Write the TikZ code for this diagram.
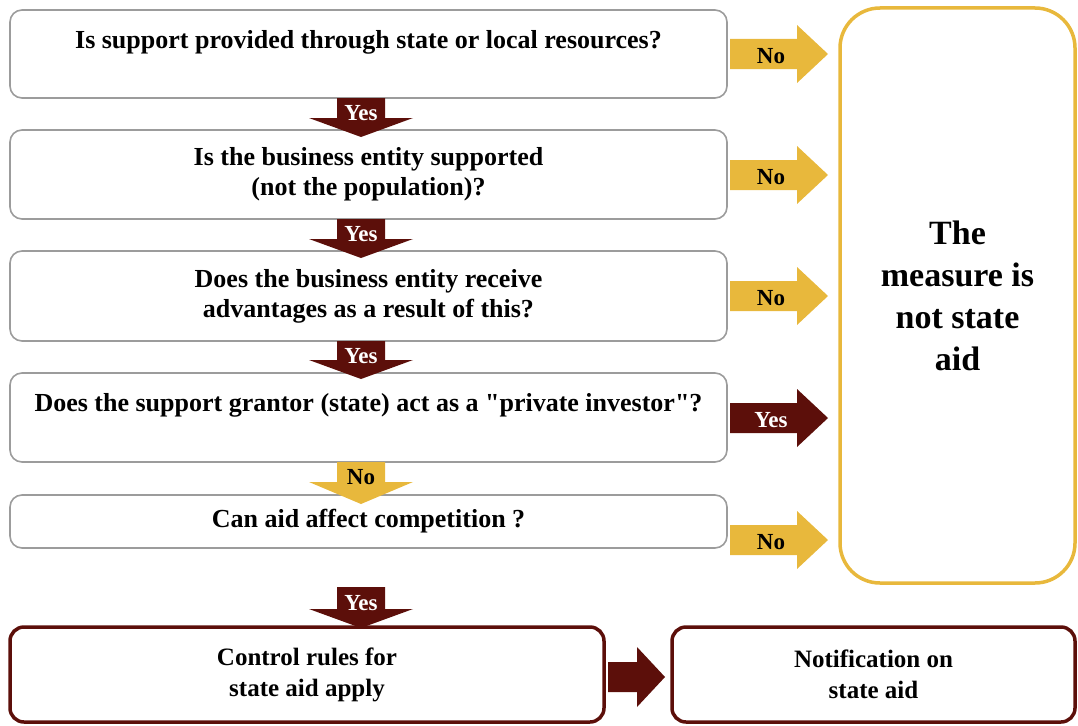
\documentclass[tikz,border=0pt]{standalone}
\usepackage{fontspec}
\setmainfont{Liberation Serif}
\usetikzlibrary{calc}
\definecolor{aidred}{HTML}{5C0F0A}
\definecolor{aidgold}{HTML}{E8B83C}
\definecolor{boxgray}{HTML}{9C9C9C}
% block arrows (down: top, head start, tip, colour; right: centre y, colour)
\newcommand{\downblk}[4]{\fill[#4] (337,#1) -- (385,#1) -- (385,#2) -- (413,#2) -- (361,#3) -- (309,#2) -- (337,#2) -- cycle;}
\newcommand{\rightblk}[2]{\fill[#2] (730,#1-15) -- (797,#1-15) -- (797,#1-29) -- (828,#1) -- (797,#1+29) -- (797,#1+15) -- (730,#1+15) -- cycle;}
\tikzset{
  qbox/.style={draw=boxgray, line width=1.6pt, rounded corners=12pt, fill=white,
    minimum width=717pt, align=center, inner sep=0pt,
    font=\fontsize{26}{30}\selectfont\bfseries},
  endbox/.style={draw=aidred, line width=3.5pt, rounded corners=14pt,
    minimum height=95pt, align=center, inner sep=0pt,
    font=\fontsize{25}{31}\selectfont\bfseries},
  nobox/.style={draw=aidgold, line width=3.5pt, rounded corners=40pt,
    minimum width=235pt, minimum height=575pt, align=center,
    font=\fontsize{34}{42}\selectfont\bfseries},
  yeslab/.style={text=white, font=\fontsize{23}{26}\selectfont\bfseries, inner sep=0pt},
  nolab/.style={text=black, font=\fontsize{23}{26}\selectfont\bfseries, inner sep=0pt}
}
\begin{document}
\begin{tikzpicture}[x=1pt,y=-1pt]
  \useasboundingbox (0,0) rectangle (1078,725);
  % question boxes
  \node[qbox, minimum height=88pt] (q1) at (368.5,54) {Is support provided through state or local resources?\\ ~};
  \node[qbox, minimum height=89pt] (q2) at (368.5,174.5) {Is the business entity supported\\(not the population)?};
  \node[qbox, minimum height=90pt] (q3) at (368.5,296) {Does the business entity receive\\advantages as a result of this?};
  \node[qbox, minimum height=89pt] (q4) at (368.5,417.5) {Does the support grantor (state) act as a \textquotedbl private investor\textquotedbl ?\\ ~};
  \node[qbox, minimum height=53pt] (q5) at (368.5,521.5) {Can aid affect competition ?};
  \node[nobox] (notaid) at (957.5,295.5) {The\\measure is\\not state\\aid};
  \node[endbox, minimum width=594pt] (rules) at (307,674.5) {Control rules for\\state aid apply};
  \node[endbox, minimum width=403pt] (notif) at (873.5,674.5) {Notification on\\state aid};
  % downward arrows
  \downblk{98}{118}{137}{aidred}
  \node[yeslab] (y1) at (361,113) {Yes};
  \downblk{219}{239}{258}{aidred}
  \node[yeslab] (y2) at (361,234) {Yes};
  \downblk{341}{360}{379}{aidred}
  \node[yeslab] (y3) at (361,356) {Yes};
  \downblk{462}{482}{504}{aidgold}
  \node[nolab] (n4) at (361,477) {No};
  \downblk{587}{609}{628}{aidred}
  \node[yeslab] (y5) at (361,603) {Yes};
  % arrows to the right box
  \rightblk{54}{aidgold}
  \node[nolab] (r1) at (771,56) {No};
  \rightblk{175}{aidgold}
  \node[nolab] (r2) at (771,177) {No};
  \rightblk{296}{aidgold}
  \node[nolab] (r3) at (771,298) {No};
  \rightblk{418}{aidred}
  \node[yeslab] (r4) at (771,420) {Yes};
  \rightblk{540}{aidgold}
  \node[nolab] (r5) at (771,542) {No};
  % rules -> notification
  \fill[aidred] (608,662) -- (637,662) -- (637,647) -- (665,677) -- (637,707) -- (637,692) -- (608,692) -- cycle;
\end{tikzpicture}
\end{document}
